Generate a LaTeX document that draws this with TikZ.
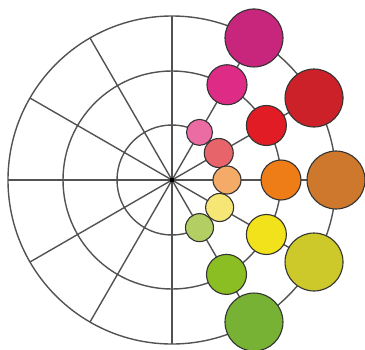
\documentclass[tikz,border=0pt]{standalone}
\usetikzlibrary{calc}
\begin{document}
\begin{tikzpicture}[x=1pt,y=-1pt,
  grid/.style={draw=black!68,line width=1.4pt},
  dot/.style={circle,draw=black!80,line width=1.1pt,inner sep=0pt},
  big/.style={dot,minimum size=58pt},
  mid/.style={dot,minimum size=40pt},
  small/.style={dot,minimum size=28pt}]
\useasboundingbox (0,0) rectangle (365,349);
\definecolor{cA}{HTML}{C8257C}\definecolor{cB}{HTML}{CC2129}\definecolor{cC}{HTML}{CD782C}
\definecolor{cD}{HTML}{CDC92B}\definecolor{cE}{HTML}{78B234}
\definecolor{mA}{HTML}{DE2B86}\definecolor{mB}{HTML}{E21C24}\definecolor{mC}{HTML}{EE7D18}
\definecolor{mD}{HTML}{F1E21B}\definecolor{mE}{HTML}{8BBE22}
\definecolor{sA}{HTML}{EA6CA3}\definecolor{sB}{HTML}{E6646A}\definecolor{sC}{HTML}{F4AB68}
\definecolor{sD}{HTML}{F5E676}\definecolor{sE}{HTML}{B3CF63}
\coordinate (c) at (172,180);
\foreach \r in {55,109,164} \draw[grid] (c) circle (\r);
\foreach \a in {0,30,...,330} \draw[grid] (c) -- ++(\a:164);
\fill[black] (c) circle (2.4);
% outer ring
\node[big,fill=cA] (o1) at ($(c)+(-60:164)$) {};
\node[big,fill=cB] (o2) at ($(c)+(-30:164)$) {};
\node[big,fill=cC] (o3) at ($(c)+(0:164)$) {};
\node[big,fill=cD] (o4) at ($(c)+(30:164)$) {};
\node[big,fill=cE] (o5) at ($(c)+(60:164)$) {};
% middle ring
\node[mid,fill=mA] (m1) at ($(c)+(-60:110)$) {};
\node[mid,fill=mB] (m2) at ($(c)+(-30:109)$) {};
\node[mid,fill=mC] (m3) at ($(c)+(0:109)$) {};
\node[mid,fill=mD] (m4) at ($(c)+(30:109)$) {};
\node[mid,fill=mE] (m5) at ($(c)+(60:109)$) {};
% inner ring
\node[small,fill=sA,minimum size=26pt] (s1) at ($(c)+(-60:55)$) {};
\node[small,fill=sB,minimum size=29pt] (s2) at ($(c)+(-30:54)$) {};
\node[small,fill=sC] (s3) at ($(c)+(0:55)$) {};
\node[small,fill=sD] (s4) at ($(c)+(30:55)$) {};
\node[small,fill=sE] (s5) at ($(c)+(60:55)$) {};
\end{tikzpicture}
\end{document}
